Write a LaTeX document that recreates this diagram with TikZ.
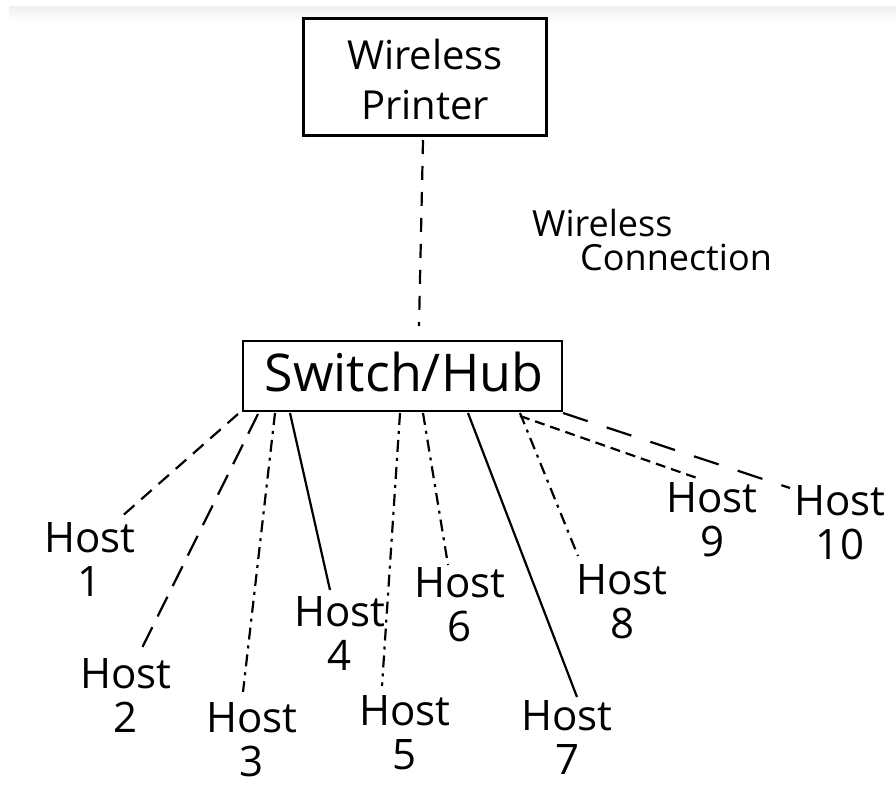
\documentclass[tikz,border=0pt]{standalone}
\usepackage{fontspec}
\setmainfont{Open Sans}
\begin{document}
\begin{tikzpicture}[x=1pt,y=-1pt,
  box/.style={draw, line width=2.6pt, inner sep=0pt},
  lbl/.style={font=\fontsize{40}{50}\selectfont, align=center, inner sep=0pt},
  hostlbl/.style={font=\fontsize{42}{44}\selectfont, align=center, inner sep=0pt},
  link/.style={line width=2.2pt},
  dsh/.style={link, dash pattern=on 14pt off 9pt},
  ldsh/.style={link, dash pattern=on 22pt off 12pt},
  xldsh/.style={link, dash pattern=on 26pt off 20pt},
  ddot/.style={link, dash pattern=on 12pt off 6pt on 3pt off 6pt},
  sdsh/.style={link, dash pattern=on 10pt off 6pt},
]
\useasboundingbox (0,0) rectangle (896,789);
\fill[white] (0,0) rectangle (896,789);
\shade[top color=black!6, bottom color=white] (9,7) rectangle (896,22);

% printer and switch
\node[box, minimum width=243pt, minimum height=117pt] (printer) at (425,77) {};
\node[lbl] (ptext) at (425,80) {Wireless\\Printer};
\node[box, minimum width=319pt, minimum height=70pt] (switch) at (402.5,376) {};
\node[font=\fontsize{52}{52}\selectfont, inner sep=0pt] (stext) at (404,372) {Switch/Hub};

\node[font=\fontsize{36}{34}\selectfont, align=left, inner sep=0pt] (wl) at (652,240)
  {Wireless\\\hspace*{48pt}Connection};

% hosts
\node[hostlbl] (h1) at (90,560) {Host\\1};
\node[hostlbl] (h2) at (126,695) {Host\\2};
\node[hostlbl] (h3) at (252,740) {Host\\3};
\node[hostlbl] (h4) at (340,634) {Host\\4};
\node[hostlbl] (h5) at (405,733) {Host\\5};
\node[hostlbl] (h6) at (460,605) {Host\\6};
\node[hostlbl] (h7) at (567,737) {Host\\7};
\node[hostlbl] (h8) at (622,602) {Host\\8};
\node[hostlbl] (h9) at (712,520) {Host\\9};
\node[hostlbl] (h10) at (840,523) {Host\\10};

% anchor points on the switch and near the hosts
\coordinate (s1) at (238,414);
\coordinate (s2) at (258,414);
\coordinate (s3) at (275,413);
\coordinate (s4) at (290,413);
\coordinate (s5) at (400,413);
\coordinate (s6) at (423,413);
\coordinate (s7) at (468,413);
\coordinate (s8) at (520,413);
\coordinate (s9) at (520,416);
\coordinate (s10) at (563,413);

\coordinate (e1) at (120,518);
\coordinate (e2) at (140,652);
\coordinate (e3) at (243,692);
\coordinate (e4) at (330,590);
\coordinate (e5) at (382,686);
\coordinate (e6) at (448,565);
\coordinate (e7) at (577,697);
\coordinate (e8) at (578,556);
\coordinate (e9) at (697,478);
\coordinate (e10) at (790,488);

% wireless link
\coordinate (wtop) at (423,140);
\coordinate (wbot) at (419,326);
\draw[link, dash pattern=on 14pt off 12pt] (wtop) -- (wbot);

% wired links
\draw[dsh] (s1) -- (e1);
\draw[ldsh] (s2) -- (e2);
\draw[ddot] (s3) -- (e3);
\draw[link] (s4) -- (e4);
\draw[ddot] (s5) -- (e5);
\draw[ddot] (s6) -- (e6);
\draw[link] (s7) -- (e7);
\draw[ddot] (s8) -- (e8);
\draw[sdsh] (s9) -- (e9);
\draw[xldsh] (s10) -- (e10);
\end{tikzpicture}
\end{document}
